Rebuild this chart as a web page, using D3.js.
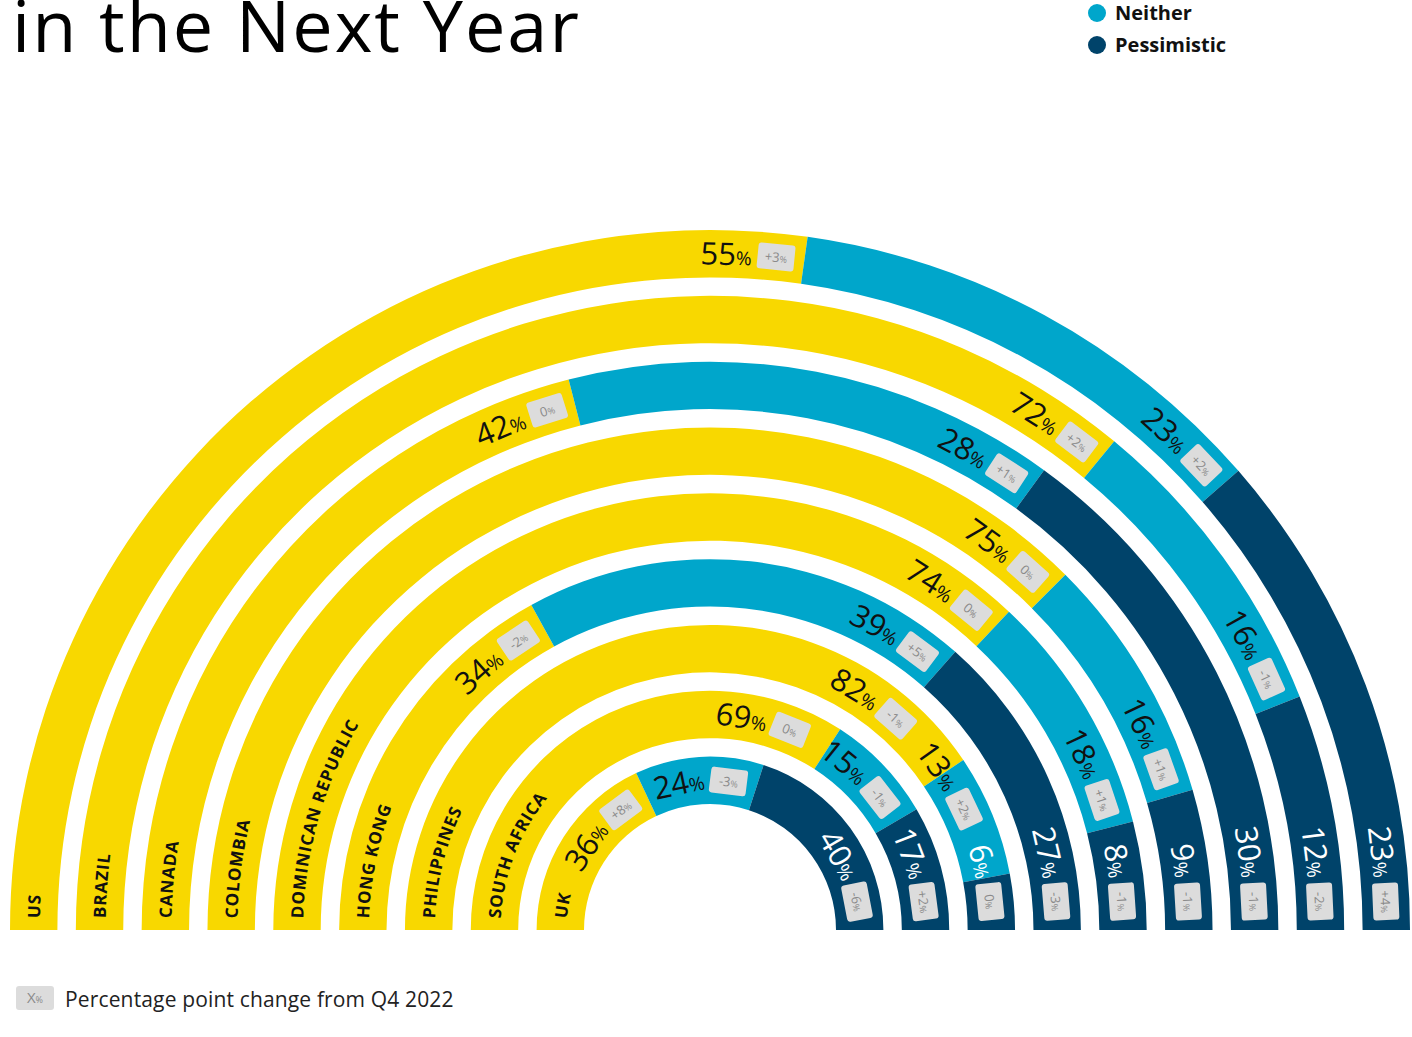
<!DOCTYPE html>
<html>
<head>
<meta charset="utf-8">
<script src="https://cdn.jsdelivr.net/npm/d3@7"></script>
<style>
  body { margin: 0; background: #fff; }
  svg { display: block; font-family: "Open Sans", Lato, sans-serif; }
</style>
</head>
<body>
<div id="chart"></div>
<script>
// outer ring first
const countries = ['US', 'Brazil', 'Canada', 'Colombia', 'Dominican Republic', 'Hong Kong', 'Philippines', 'South Africa', 'UK'];
const optimistic = [55, 72, 42, 75, 74, 34, 82, 69, 36];
const neither = [23, 16, 28, 16, 18, 39, 13, 15, 24];
const pessimistic = [23, 12, 30, 9, 8, 27, 6, 17, 40];
const optimisticChange = [3, 2, 0, 0, 0, -2, -1, 0, 8];
const neitherChange = [2, -1, 1, 1, 1, 5, 2, -1, -3];
const pessimisticChange = [4, -2, -1, -1, -1, -3, 0, 2, -6];
const seriesNames = ['Optimistic', 'Neither', 'Pessimistic'];
const seriesColors = ['#F8D800', '#00A6CB', '#00436A'];
const labelColors = ['#111', '#111', '#fff'];

const W = 1412, H = 1037;
const cx = 710, cy = 930;

const svg = d3.select('#chart').append('svg').attr('width', W).attr('height', H);

// title (first line sits above the visible area)
svg.append('text').attr('x', 12).attr('y', 52)
    .style('font-size', '72px').style('letter-spacing', '2px').attr('fill', '#000')
    .text('in the Next Year');

// legend top right
const legend = svg.append('g');
[1, 2].forEach((k, i) => {
    const g = legend.append('g').attr('transform', `translate(1097,${13 + i * 32})`);
    g.append('circle').attr('r', 9).attr('fill', seriesColors[k]);
    g.append('text').attr('x', 18).attr('y', 7).style('font-size', '20px').style('font-weight', 700)
        .attr('fill', '#111').text(seriesNames[k]);
});

const r = d3.scaleBand().domain(countries.slice().reverse()).range([126, 700]).paddingInner(0.28);
const bw = r.bandwidth();
const fmt = v => (v > 0 ? '+' + v : '' + v);
const deg = a => a * 180 / Math.PI;
const pos = (a, rad) => [cx + rad * Math.sin(a), cy - rad * Math.cos(a)];

const rings = svg.append('g');
const labels = svg.append('g');
const boxW = 37, boxH = 26, pad = 10, gap = 6;

countries.forEach((c, i) => {
    const vals = [optimistic[i], neither[i], pessimistic[i]];
    const changes = [optimisticChange[i], neitherChange[i], pessimisticChange[i]];
    const total = d3.sum(vals);
    const ang = d3.scaleLinear().domain([0, total]).range([-Math.PI / 2, Math.PI / 2]);
    const r0 = r(c), r1 = r0 + bw, rm = (r0 + r1) / 2;
    const arc = d3.arc().innerRadius(r0).outerRadius(r1);

    const ends = d3.cumsum(vals);
    vals.forEach((v, k) => {
        rings.append('path').attr('transform', `translate(${cx},${cy})`)
            .attr('d', arc({ startAngle: ang(ends[k] - v), endAngle: ang(ends[k]) }))
            .attr('fill', seriesColors[k]);
    });

    // labels from the last segment backwards, so a short segment pushes the previous label back
    let limit = Infinity;
    for (let k = 2; k >= 0; k--) {
        const a1 = Math.min(ang(ends[k]) - pad / rm, limit - 2 * pad / rm);
        const ab = a1 - (boxW / 2) / rm;
        const [bx, by] = pos(ab, rm);
        const box = labels.append('g').attr('transform', `translate(${bx},${by}) rotate(${deg(ab)})`);
        box.append('rect').attr('x', -boxW / 2).attr('y', -boxH / 2).attr('width', boxW).attr('height', boxH)
            .attr('rx', 3).attr('fill', '#DCDCDC');
        const bt = box.append('text').attr('text-anchor', 'middle').attr('y', 5).attr('fill', '#8a8a8a');
        bt.append('tspan').style('font-size', '13px').text(fmt(changes[k]));
        bt.append('tspan').style('font-size', '9px').text('%');

        const vt = labels.append('text').attr('text-anchor', 'middle').attr('y', 11).attr('fill', labelColors[k]);
        vt.append('tspan').style('font-size', '31px').text(vals[k]);
        vt.append('tspan').style('font-size', '19px').text('%');
        const w = vt.node().getComputedTextLength();
        const at = ab - (boxW / 2 + gap + w / 2) / rm;
        const [tx, ty] = pos(at, rm);
        vt.attr('transform', `translate(${tx},${ty}) rotate(${deg(at)})`);
        limit = at - (w / 2) / rm;
    }

    // country name along the ring
    const id = 'ring-' + i;
    svg.append('defs').append('path').attr('id', id)
        .attr('d', `M${cx - rm},${cy} A${rm},${rm} 0 0 1 ${cx + rm},${cy}`);
    labels.append('text').attr('dy', '0.36em').style('font-size', '17px').style('font-weight', 700)
        .style('letter-spacing', '1px').attr('fill', '#111')
        .append('textPath').attr('href', '#' + id).attr('startOffset', 12)
        .text(c.toUpperCase());
});

// bottom legend
const note = svg.append('g').attr('transform', 'translate(16,986)');
note.append('rect').attr('width', 38).attr('height', 24).attr('rx', 3).attr('fill', '#DCDCDC');
const nt = note.append('text').attr('x', 19).attr('y', 17).attr('text-anchor', 'middle').attr('fill', '#8a8a8a');
nt.append('tspan').style('font-size', '15px').text('X');
nt.append('tspan').style('font-size', '9px').text('%');
note.append('text').attr('x', 49).attr('y', 21).style('font-size', '21px').style('letter-spacing', '0.15px')
    .attr('fill', '#222').text('Percentage point change from Q4 2022');
</script>
</body>
</html>
